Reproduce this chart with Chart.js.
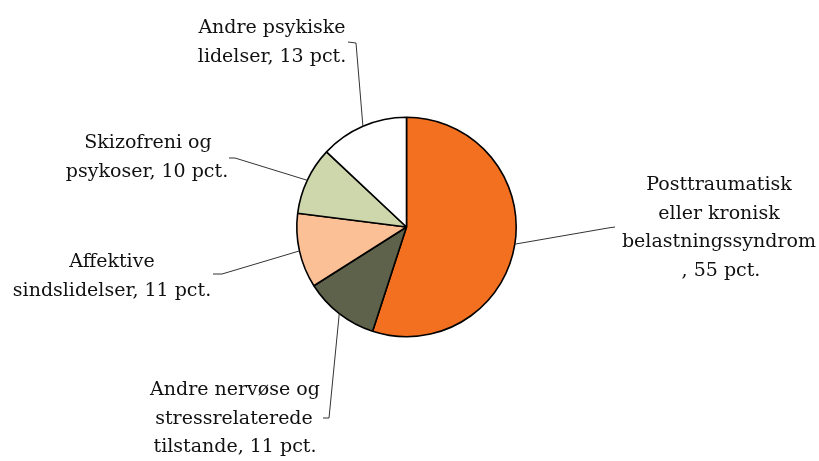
<!DOCTYPE html>
<html><head><meta charset="utf-8">
<script src="https://cdn.jsdelivr.net/npm/chart.js@4"></script>
<style>html,body{margin:0;padding:0;background:#fff}#wrap{width:819px;height:461px}</style>
</head><body><div id="wrap"><canvas id="c" width="819" height="461"></canvas></div>
<script>
const categories = [
  ["Posttraumatisk", "eller kronisk", "belastningssyndrom", ", 55 pct."],
  ["Andre nervøse og", "stressrelaterede", "tilstande, 11 pct."],
  ["Affektive", "sindslidelser, 11 pct."],
  ["Skizofreni og", "psykoser, 10 pct."],
  ["Andre psykiske", "lidelser, 13 pct."]
];
const values = [55, 11, 11, 10, 13];
const colors = ["#F37021", "#5E624A", "#FBC096", "#CED6AC", "#FFFFFF"];
// label line centres (x per line, first-line y) and leader-line elbow points
const labelPos = [
  {x: [719, 719, 719, 721], y: 185, path: [[608, 228], [615, 227]]},
  {x: [235, 234, 235], y: 390, path: [[329, 418], [323, 418]]},
  {x: [112, 112], y: 262, path: [[222, 274], [213, 274]]},
  {x: [148, 147], y: 143, path: [[235, 158], [229, 158]]},
  {x: [272, 272], y: 28,  path: [[356, 43], [348, 42]]}
];
const lineH = 28.7;

const labelPlugin = {
  id: 'pieLabels',
  afterDatasetsDraw(chart) {
    const ctx = chart.ctx;
    const meta = chart.getDatasetMeta(0);
    ctx.save();
    meta.data.forEach((arc, i) => {
      const p = arc.getProps(['x', 'y', 'startAngle', 'endAngle', 'outerRadius'], true);
      const mid = (p.startAngle + p.endAngle) / 2;
      const sx = p.x + Math.cos(mid) * p.outerRadius;
      const sy = p.y + Math.sin(mid) * p.outerRadius;
      const lp = labelPos[i];
      ctx.beginPath();
      ctx.moveTo(sx, sy);
      lp.path.forEach(pt => ctx.lineTo(pt[0], pt[1]));
      ctx.strokeStyle = '#333';
      ctx.lineWidth = 1;
      ctx.stroke();
      ctx.fillStyle = '#111';
      ctx.font = '19px "DejaVu Serif"';
      ctx.textAlign = 'center';
      ctx.textBaseline = 'middle';
      categories[i].forEach((t, k) => ctx.fillText(t, lp.x[k], lp.y + k * lineH));
    });
    ctx.restore();
  }
};

new Chart(document.getElementById('c'), {
  type: 'pie',
  data: {
    labels: categories.map(c => c.join(' ')),
    datasets: [{
      data: values,
      backgroundColor: colors,
      borderColor: '#000',
      borderWidth: 1.6
    }]
  },
  options: {
    responsive: false,
    animation: false,
    layout: {padding: {top: 116, bottom: 123, left: 296, right: 302}},
    plugins: {legend: {display: false}, tooltip: {enabled: false}}
  },
  plugins: [labelPlugin]
});
</script></body></html>
